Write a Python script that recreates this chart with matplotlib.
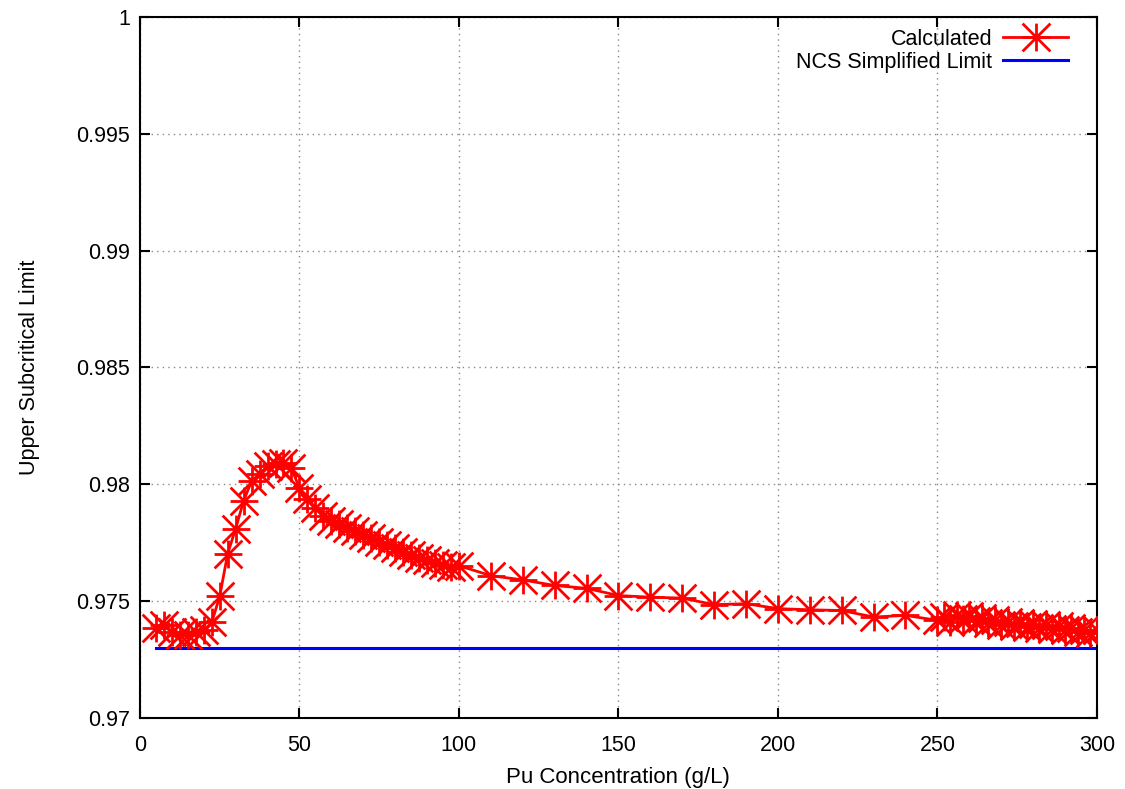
import matplotlib
matplotlib.use("Agg")
import matplotlib.pyplot as plt
from matplotlib.path import Path
import numpy as np

plt.rcParams['font.family'] = ['Liberation Sans', 'DejaVu Sans']

# Data
x_low = [5, 7.5, 10, 12.5, 15, 17.5, 20, 22.5, 25, 27.5, 30, 32.5, 35, 37.5, 40, 42.5, 45, 47.5]
y_low = [0.97384, 0.97397, 0.97367, 0.97354, 0.97354, 0.97367, 0.97375, 0.97409, 0.97520,
         0.97703, 0.97810, 0.97929, 0.98014, 0.98044, 0.98078, 0.98086, 0.98091, 0.98069]

x_mid = [50, 52.5, 55, 57.5, 60, 62.5, 65, 67.5, 70, 72.5, 75, 77.5, 80, 82.5, 85, 87.5,
         90, 92.5, 95, 97.5, 100]
y_mid = [0.97984, 0.97937, 0.97899, 0.97865, 0.97844, 0.97831, 0.97814, 0.97801, 0.97785,
         0.97770, 0.97755, 0.97740, 0.97726, 0.97710, 0.97697, 0.97684, 0.97674, 0.97663,
         0.97655, 0.97646, 0.97652]

x_high = [110, 120, 130, 140, 150, 160, 170, 180, 190, 200, 210, 220, 230, 240]
y_high = [0.97609, 0.97591, 0.97567, 0.97555, 0.97524, 0.97517, 0.97513, 0.97485, 0.97489,
          0.97468, 0.97463, 0.97460, 0.97432, 0.97439]

x_end = [250, 252, 254, 256, 258, 260, 262, 264, 266, 268, 270, 272, 274, 276, 278, 280,
         282, 284, 286, 288, 290, 292, 294, 296, 298, 300]
y_end = [0.97418, 0.97432, 0.97410, 0.97440, 0.97425, 0.97435, 0.97415, 0.97428, 0.97405,
         0.97420, 0.97398, 0.97412, 0.97395, 0.97408, 0.97390, 0.97402, 0.97385, 0.97396,
         0.97380, 0.97392, 0.97375, 0.97385, 0.97368, 0.97378, 0.97365, 0.97375]

x_calc = x_low + x_mid + x_high + x_end
y_calc = y_low + y_mid + y_high + y_end

limit_x = [5, 300]
limit_y = [0.973, 0.973]

x_ticks = [0, 50, 100, 150, 200, 250, 300]
y_ticks = [0.97, 0.975, 0.98, 0.985, 0.99, 0.995, 1.0]
y_ticklabels = ['0.97', '0.975', '0.98', '0.985', '0.99', '0.995', '1']

# gnuplot-style asterisk marker (+ and x)
star = Path([(-1, 0), (1, 0), (0, -1), (0, 1), (-1, -1), (1, 1), (-1, 1), (1, -1)],
            [Path.MOVETO, Path.LINETO] * 4)

fig = plt.figure(figsize=(11.25, 7.89), dpi=100)
ax = fig.add_axes([0.1244, 0.090, 0.8506, 0.8885])

ax.plot(x_calc, y_calc, color='#ff0000', lw=2.0, marker=star, markersize=20,
        markeredgewidth=2.0, markerfacecolor='none', markeredgecolor='#ff0000',
        label='Calculated', zorder=3)
ax.plot(limit_x, limit_y, color='#0000ff', lw=2.2, label='NCS Simplified Limit', zorder=2)

ax.set_xlim(0, 300)
ax.set_ylim(0.97, 1.0)
ax.set_xticks(x_ticks)
ax.set_yticks(y_ticks)
ax.set_yticklabels(y_ticklabels)
ax.tick_params(axis='both', direction='in', top=True, right=True, length=7, width=1.5,
               labelsize=15.5)
ax.tick_params(axis='x', pad=12)
ax.tick_params(axis='y', pad=7)
for s in ax.spines.values():
    s.set_linewidth(1.5)
ax.grid(True, color='#888888', linestyle=(0, (1, 3)), linewidth=1.0)
ax.set_axisbelow(True)

ax.set_xlabel('Pu Concentration (g/L)', fontsize=16, labelpad=8)
ax.set_ylabel('Upper Subcritical Limit', fontsize=15.5, labelpad=26)

leg = ax.legend(loc='upper right', frameon=False, markerfirst=False, fontsize=15.5,
                handlelength=3.0, borderaxespad=0.3, borderpad=0.25, labelspacing=0.1,
                handletextpad=0.5, bbox_to_anchor=(0.982, 1.0))
for t in leg.get_texts():
    t.set_ha('right')

fig.savefig('out.png', dpi=100)
